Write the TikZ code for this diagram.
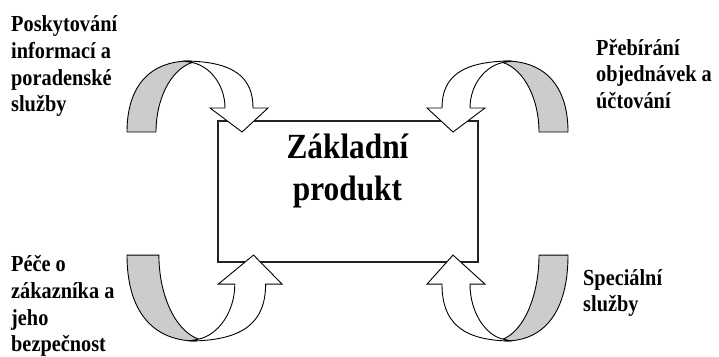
\documentclass[tikz,border=0pt]{standalone}
\usepackage{fontspec}
\usepackage{graphicx}
\setmainfont{Liberation Serif}
\definecolor{backgray}{HTML}{CCCCCC}
\definecolor{boxline}{HTML}{222222}
\newcommand{\lblstack}[1]{\scalebox{1}[1.13]{\vtop{#1}}}
\newcommand{\ribbonarrow}{%
  \path[backband] (127,132) .. controls (127,86) and (150,61) .. (190,61)
     -- (192,62.5) .. controls (170,70) and (156,100) .. (156,132) -- cycle;
  \path[frontband] (183,61) .. controls (235,61) and (253,78) .. (253,108)
     -- (268,108) -- (242,132) -- (210,108) -- (225,108)
     .. controls (225,85) and (210,66) .. (192,62.5) -- cycle;
}
\tikzset{
  backband/.style={fill=backgray, draw=black, line width=0.9pt, line join=round},
  frontband/.style={fill=white, draw=black, line width=0.9pt, line join=miter},
  prodbox/.style={draw=boxline, fill=white, line width=1.3pt, inner sep=0pt,
    minimum width=260pt, minimum height=141pt},
  lbl/.style={anchor=base west, inner sep=0pt,
    font=\bfseries\fontsize{20.3}{23.6}\selectfont},
  title/.style={anchor=base, inner sep=0pt,
    font=\bfseries\fontsize{31.3}{36.9}\selectfont}
}
\begin{document}
\begin{tikzpicture}[x=1pt, y=-1pt]
  \useasboundingbox (0,0) rectangle (719,356);
  \node[prodbox] (prod) at (348,191.5) {};
  \node[title] (main) at (347.5,158.3)
    {\scalebox{1}[1.13]{\vtop{\halign{\hfil#\hfil\cr Základní\cr produkt\cr}}}};
  % curved arrows
  \begin{scope}\ribbonarrow\end{scope}
  \begin{scope}[shift={(695,0)}, xscale=-1]\ribbonarrow\end{scope}
  \begin{scope}[shift={(-12.7,414.8)}, xscale=1.1, yscale=-1.21]\ribbonarrow\end{scope}
  \begin{scope}[shift={(695,414.8)}, xscale=-1, yscale=-1.21]\ribbonarrow\end{scope}
  % labels
  \node[lbl] (tl) at (11,31.7)
    {\lblstack{\hbox{Poskytování}\hbox{informací a}\hbox{poradenské}\hbox{služby}}};
  \node[lbl] (tr) at (596,55)
    {\lblstack{\hbox{Přebírání}\hbox{objednávek a}\hbox{účtování}}};
  \node[lbl] (bl) at (11,271.7)
    {\lblstack{\hbox{Péče o}\hbox{zákazníka a}\hbox{jeho}\hbox{bezpečnost}}};
  \node[lbl] (br) at (583,285)
    {\lblstack{\hbox{Speciální}\hbox{služby}}};
\end{tikzpicture}
\end{document}
